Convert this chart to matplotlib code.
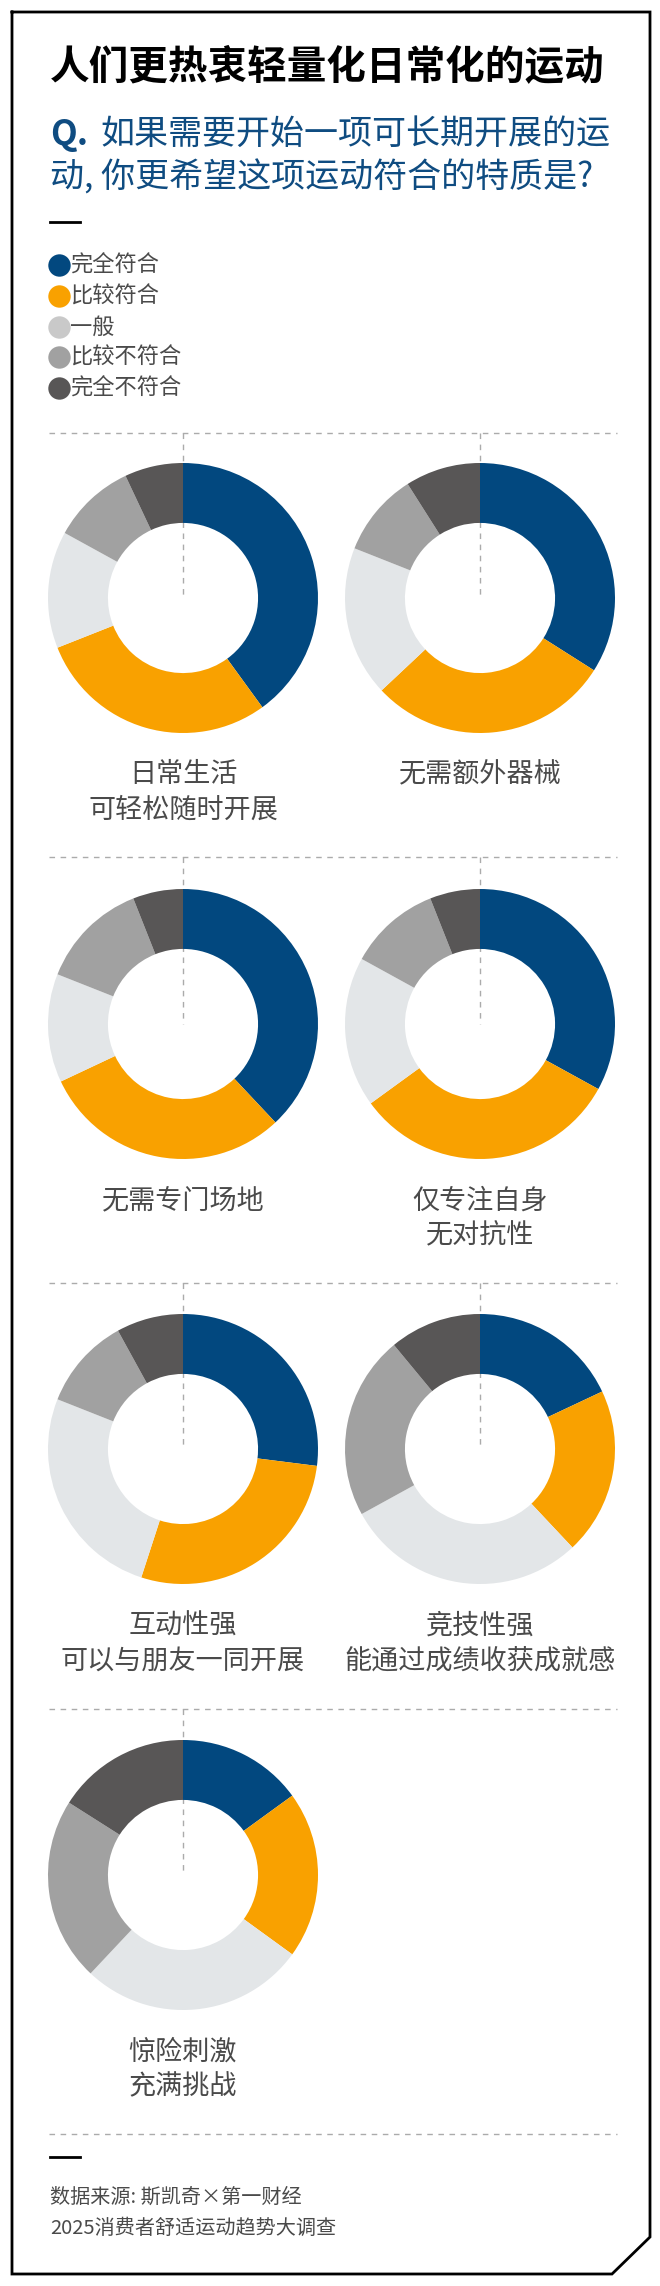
import matplotlib.pyplot as plt

plt.rcParams['font.family'] = ['Noto Sans CJK SC', 'DejaVu Sans']

# data (percent shares, clockwise from 12 o'clock)
categories = ["完全符合", "比较符合", "一般", "比较不符合", "完全不符合"]
items = ["日常生活\n可轻松随时开展", "无需额外器械", "无需专门场地", "仅专注自身\n无对抗性",
         "互动性强\n可以与朋友一同开展", "竞技性强\n能通过成绩收获成就感", "惊险刺激\n充满挑战"]
shares = [
    [40, 29, 14, 10, 7],
    [34, 29, 18, 10, 9],
    [38, 30, 13, 13, 6],
    [33, 32, 18, 11, 6],
    [27, 28, 26, 11, 8],
    [18, 20, 29, 22, 11],
    [15, 20, 27, 22, 16],
]

title = "人们更热衷轻量化日常化的运动"
question_1 = "如果需要开始一项可长期开展的运"
question_2 = "动, 你更希望这项运动符合的特质是?"
source_1 = "数据来源: 斯凯奇×第一财经"
source_2 = "2025消费者舒适运动趋势大调查"

# styles
ring_colors = ["#02487F", "#F9A100", "#E3E6E8", "#A1A1A1", "#585656"]
legend_colors = ["#02487F", "#F9A100", "#C9C9C9", "#A1A1A1", "#585656"]
blue_text = "#0F4C81"
grey_text = "#4A4A4A"
dash_col = "#ABABAB"

W, H = 660, 2286
fig = plt.figure(figsize=(W / 100, H / 100), dpi=100)
ax = fig.add_axes([0, 0, 1, 1])
ax.set_xlim(0, W)
ax.set_ylim(H, 0)
ax.axis('off')

# frame with cut corner bottom right
fx = [12, 650, 650, 612, 12, 12]
fy = [12, 12, 2237, 2274, 2274, 12]
ax.plot(fx, fy, color="black", lw=2, solid_joinstyle='miter')

# header
ax.text(50, 68, title, fontsize=28.5, fontweight='bold', color="black", va='center')
ax.text(50, 134, "Q.", fontsize=25, fontweight='bold', color=blue_text, va='center')
ax.text(100, 134, question_1, fontsize=24.5, color=blue_text, va='center')
ax.text(50, 178, question_2, fontsize=24.5, color=blue_text, va='center')
ax.plot([50, 80], [222, 222], color="black", lw=2)

# legend
leg_y = [265, 296, 327, 357, 388]
for name, col, y in zip(categories, legend_colors, leg_y):
    ax.scatter([59], [y], s=260, color=col, lw=0)
    ax.text(70, y, name, fontsize=16, color=grey_text, va='center')

# grid of donuts
col_x = [183, 480]
row_y = [598, 1024, 1449, 1875]
sep_y = [433, 857, 1283, 1709, 2134]
R = 135

for y in sep_y:
    ax.plot([49, 617], [y, y], color=dash_col, lw=1, dashes=(4, 4))

for i, (name, vals) in enumerate(zip(items, shares)):
    cx = col_x[i % 2]
    cy = row_y[i // 2]
    ax.plot([cx, cx], [sep_y[i // 2], cy], color=dash_col, lw=1, dashes=(4, 4))
    pax = fig.add_axes([(cx - R) / W, 1 - (cy + R) / H, 2 * R / W, 2 * R / H])
    pax.pie(vals, colors=ring_colors, startangle=90, counterclock=False,
            wedgeprops=dict(width=0.444, linewidth=0))
    pax.set_xlim(-1, 1)
    pax.set_ylim(-1, 1)
    pax.axis('off')
    for k, line in enumerate(name.split("\n")):
        ax.text(cx, cy + 177 + 35 * k, line, fontsize=19.5, color=grey_text,
                ha='center', va='center')

# footer
ax.plot([50, 80], [2157, 2157], color="black", lw=2)
ax.text(50, 2197, source_1, fontsize=14.5, color=grey_text, va='center')
ax.text(50, 2228, source_2, fontsize=14.5, color=grey_text, va='center')

fig.savefig("out.png", dpi=100)
